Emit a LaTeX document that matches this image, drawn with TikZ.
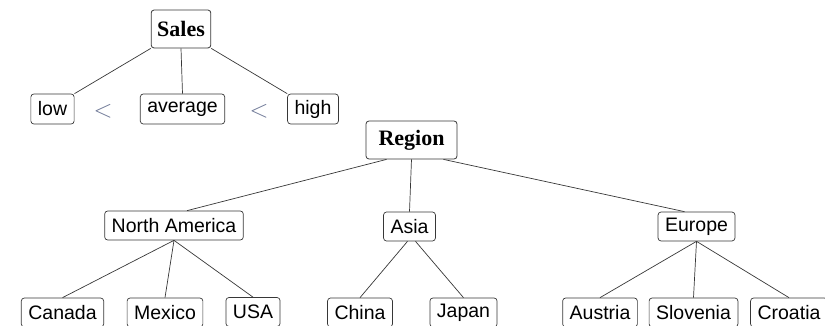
\documentclass[tikz,border=0pt]{standalone}
\usepackage{fontspec}
\setmainfont{Liberation Serif}
\setsansfont{Liberation Sans}
\usepackage{tikz}
\definecolor[named]{myColorLine}{RGB}{55,55,55}
\definecolor[named]{myColorLess}{RGB}{110,120,150}

\begin{document}
\begin{tikzpicture}
[%
    x=1pt, y=-1pt,
    attr/.style={
      rectangle,
      draw=myColorLine,
      line width=0.8pt,
      rounded corners=3pt,
      inner xsep=6pt,
      inner ysep=0pt,
      minimum height=38pt,
      font=\fontsize{22}{24}\selectfont\bfseries
    },
    val/.style={
      rectangle,
      draw=myColorLine,
      line width=0.7pt,
      rounded corners=3pt,
      inner xsep=7pt,
      inner ysep=0pt,
      minimum height=29pt,
      font=\fontsize{19.5}{22}\selectfont\sffamily
    },
    less/.style={
      text=myColorLess,
      font=\fontsize{23}{26}\selectfont
    },
    edge/.style={
      myColorLine,
      line width=0.7pt
    }
  ]
  \useasboundingbox (0,0) rectangle (825,326);
  %Sales
    \draw (181,29) node[attr] (Sales) {Sales};
    \draw (52.5,109) node[val, minimum height=30pt] (low) {low};
    \draw (182.5,109) node[val, minimum height=30pt] (avg) {average};
    \draw (313,109) node[val, minimum height=30pt] (high) {high};
    \node[less] (lt1) at (103,111) {$<$};
    \node[less] (lt2) at (259,111) {$<$};

    \draw[edge] (Sales.south west) -- (low.north east);
    \draw[edge] (Sales.south) -- (avg.north);
    \draw[edge] (Sales.south east) -- (high.north west);

  %Region
    \draw (411.5,140) node[attr, minimum width=91pt] (Region) {Region};
    \draw (174,225.5) node[val] (NA) {North America};
    \draw (409.5,226.5) node[val] (Asia) {Asia};
    \draw (696.5,226.5) node[val] (Eur) {Europe};

    \draw[edge] ([xshift=-25pt]Region.south) -- ([xshift=13pt]NA.north);
    \draw[edge] (Region.south) -- (Asia.north);
    \draw[edge] ([xshift=32pt]Region.south) -- ([xshift=-12pt]Eur.north);

    \draw (62.5,312.5) node[val] (Can) {Canada};
    \draw (165,312.5) node[val] (Mex) {Mexico};
    \draw (253,312) node[val] (USA) {USA};
    \draw (360,312.5) node[val] (Chi) {China};
    \draw (463.5,312.5) node[val] (Jap) {Japan};
    \draw (600,312.5) node[val] (Aus) {Austria};
    \draw (693.5,312.5) node[val] (Slo) {Slovenia};
    \draw (789,312.5) node[val] (Cro) {Croatia};

    \draw[edge] (NA.south) -- (Can.north);
    \draw[edge] (NA.south) -- (Mex.north);
    \draw[edge] (NA.south) -- (USA.north);
    \draw[edge] ([xshift=-2pt]Asia.south) -- (Chi.north);
    \draw[edge] ([xshift=6pt]Asia.south) -- (Jap.north);
    \draw[edge] (Eur.south) -- (Aus.north);
    \draw[edge] (Eur.south) -- (Slo.north);
    \draw[edge] (Eur.south) -- (Cro.north);

\end{tikzpicture}
\end{document}
